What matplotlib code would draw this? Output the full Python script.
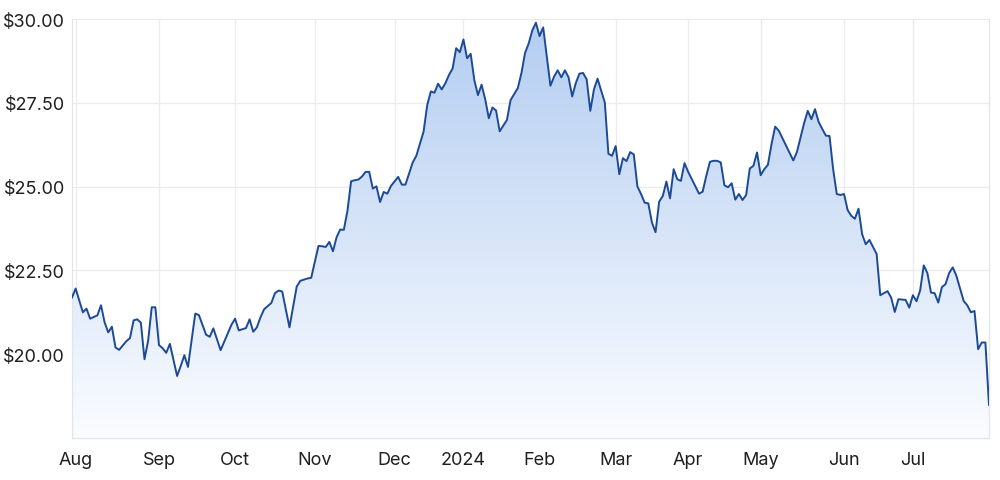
"""
Preço da ação em 12 meses (pregões da ASX), com preenchimento em degradê.
"""

import matplotlib.pyplot as plt
import numpy as np
import pandas as pd
from matplotlib.colors import LinearSegmentedColormap

# calendário de pregões (feriados da ASX no período)
feriados = [
    "2023-12-25", "2023-12-26", "2024-01-01", "2024-01-26",
    "2024-03-29", "2024-04-01", "2024-04-25", "2024-06-10",
]

datas = [
    "2023-07-31", "2023-08-01", "2023-08-03", "2023-08-04", "2023-08-07", "2023-08-09",
    "2023-08-10", "2023-08-11", "2023-08-14", "2023-08-15", "2023-08-16", "2023-08-17",
    "2023-08-21", "2023-08-22", "2023-08-23", "2023-08-24", "2023-08-25", "2023-08-28",
    "2023-08-29", "2023-08-30", "2023-08-31", "2023-09-01", "2023-09-04", "2023-09-05",
    "2023-09-06", "2023-09-08", "2023-09-11", "2023-09-12", "2023-09-13", "2023-09-15",
    "2023-09-18", "2023-09-20", "2023-09-21", "2023-09-22", "2023-09-26", "2023-09-29",
    "2023-10-02", "2023-10-03", "2023-10-05", "2023-10-06", "2023-10-09", "2023-10-10",
    "2023-10-11", "2023-10-12", "2023-10-16", "2023-10-17", "2023-10-18", "2023-10-19",
    "2023-10-23", "2023-10-25", "2023-10-26", "2023-10-30", "2023-10-31", "2023-11-01",
    "2023-11-02", "2023-11-03", "2023-11-06", "2023-11-07", "2023-11-08", "2023-11-09",
    "2023-11-10", "2023-11-13", "2023-11-14", "2023-11-15", "2023-11-16", "2023-11-17",
    "2023-11-20", "2023-11-21", "2023-11-22", "2023-11-23", "2023-11-24", "2023-11-27",
    "2023-11-28", "2023-11-29", "2023-11-30", "2023-12-04", "2023-12-05", "2023-12-06",
    "2023-12-08", "2023-12-11", "2023-12-13", "2023-12-14", "2023-12-15", "2023-12-18",
    "2023-12-19", "2023-12-20", "2023-12-21", "2023-12-22", "2023-12-27", "2023-12-28",
    "2023-12-29", "2024-01-02", "2024-01-03", "2024-01-04", "2024-01-05", "2024-01-08",
    "2024-01-09", "2024-01-10", "2024-01-11", "2024-01-12", "2024-01-15", "2024-01-16",
    "2024-01-18", "2024-01-19", "2024-01-23", "2024-01-24", "2024-01-25", "2024-01-29",
    "2024-01-30", "2024-01-31", "2024-02-01", "2024-02-02", "2024-02-06", "2024-02-07",
    "2024-02-08", "2024-02-09", "2024-02-12", "2024-02-13", "2024-02-14", "2024-02-15",
    "2024-02-16", "2024-02-19", "2024-02-20", "2024-02-21", "2024-02-22", "2024-02-23",
    "2024-02-27", "2024-02-28", "2024-02-29", "2024-03-01", "2024-03-04", "2024-03-05",
    "2024-03-06", "2024-03-07", "2024-03-08", "2024-03-11", "2024-03-12", "2024-03-13",
    "2024-03-14", "2024-03-15", "2024-03-18", "2024-03-19", "2024-03-20", "2024-03-21",
    "2024-03-22", "2024-03-25", "2024-03-26", "2024-03-27", "2024-03-28", "2024-04-02",
    "2024-04-05", "2024-04-08", "2024-04-09", "2024-04-10", "2024-04-11", "2024-04-12",
    "2024-04-15", "2024-04-16", "2024-04-17", "2024-04-18", "2024-04-19", "2024-04-22",
    "2024-04-23", "2024-04-24", "2024-04-26", "2024-04-29", "2024-04-30", "2024-05-01",
    "2024-05-02", "2024-05-03", "2024-05-06", "2024-05-07", "2024-05-08", "2024-05-14",
    "2024-05-15", "2024-05-17", "2024-05-20", "2024-05-21", "2024-05-22", "2024-05-23",
    "2024-05-24", "2024-05-27", "2024-05-28", "2024-05-29", "2024-05-30", "2024-05-31",
    "2024-06-03", "2024-06-04", "2024-06-05", "2024-06-06", "2024-06-07", "2024-06-11",
    "2024-06-12", "2024-06-13", "2024-06-17", "2024-06-18", "2024-06-20", "2024-06-21",
    "2024-06-24", "2024-06-25", "2024-06-26", "2024-06-27", "2024-06-28", "2024-07-01",
    "2024-07-02", "2024-07-03", "2024-07-04", "2024-07-05", "2024-07-08", "2024-07-09",
    "2024-07-10", "2024-07-11", "2024-07-12", "2024-07-15", "2024-07-16", "2024-07-17",
    "2024-07-18", "2024-07-19", "2024-07-22", "2024-07-23", "2024-07-24", "2024-07-25",
    "2024-07-26", "2024-07-29", "2024-07-30",
]

precos = [
    21.69, 21.96, 21.25, 21.36, 21.06, 21.16,
    21.46, 20.95, 20.65, 20.82, 20.20, 20.13,
    20.39, 20.48, 21.01, 21.04, 20.94, 19.85,
    20.40, 21.40, 21.40, 20.27, 20.18, 20.04,
    20.31, 19.35, 19.65, 19.97, 19.62, 21.21,
    21.17, 20.58, 20.52, 20.77, 20.12, 20.88,
    21.06, 20.71, 20.78, 21.04, 20.67, 20.80,
    21.10, 21.34, 21.53, 21.82, 21.90, 21.87,
    20.80, 22.02, 22.19, 22.26, 22.28, 22.76,
    23.23, 23.22, 23.20, 23.35, 23.07, 23.49,
    23.72, 23.71, 24.28, 25.16, 25.19, 25.21,
    25.30, 25.44, 25.44, 24.94, 25.01, 24.54,
    24.84, 24.79, 25.02, 25.29, 25.06, 25.06,
    25.72, 25.92, 26.64, 27.43, 27.84, 27.80,
    28.07, 27.90, 28.08, 28.33, 28.52, 29.13,
    29.01, 29.39, 28.83, 28.96, 28.18, 27.73,
    28.04, 27.61, 27.04, 27.36, 27.27, 26.65,
    26.99, 27.58, 27.94, 28.39, 28.99, 29.27,
    29.66, 29.89, 29.49, 29.75, 28.01, 28.28,
    28.47, 28.26, 28.47, 28.26, 27.69, 28.09,
    28.37, 28.39, 28.20, 27.26, 27.90, 28.22,
    27.51, 25.98, 25.92, 26.21, 25.37, 25.85,
    25.76, 26.03, 25.96, 25.00, 24.78, 24.52,
    24.50, 23.93, 23.64, 24.55, 24.72, 25.15,
    24.65, 25.52, 25.22, 25.17, 25.70, 25.44,
    24.79, 24.85, 25.32, 25.74, 25.77, 25.77,
    25.72, 25.04, 24.98, 25.10, 24.61, 24.78,
    24.60, 24.75, 25.54, 25.62, 26.02, 25.34,
    25.52, 25.65, 26.27, 26.79, 26.67, 25.78,
    26.03, 26.90, 27.26, 27.01, 27.31, 26.93,
    26.72, 26.52, 26.51, 25.52, 24.78, 24.75,
    24.78, 24.30, 24.13, 24.04, 24.34, 23.58,
    23.28, 23.41, 22.99, 21.76, 21.88, 21.69,
    21.26, 21.64, 21.63, 21.62, 21.39, 21.76,
    21.58, 21.90, 22.65, 22.42, 21.84, 21.82,
    21.54, 22.00, 22.09, 22.42, 22.59, 22.34,
    21.96, 21.59, 21.46, 21.25, 21.29, 20.15,
    20.35, 20.35, 18.49,
]

rotulos_meses = ["Aug", "Sep", "Oct", "Nov", "Dec", "2024",
                 "Feb", "Mar", "Apr", "May", "Jun", "Jul"]
ticks_preco = [20.0, 22.5, 25.0, 27.5, 30.0]

COR_LINHA = "#1c4a97"
COR_GRADE = "#e9ebef"
COR_TEXTO = "#1f1f1f"

plt.rcParams["font.family"] = ["Inter", "DejaVu Sans"]

pregoes = pd.bdate_range(datas[0], datas[-1], freq="C", holidays=feriados)
x = pregoes.get_indexer(pd.to_datetime(datas))
y = np.array(precos)

# primeiro pregão de cada mês (a partir de agosto)
serie_pregoes = pd.Series(np.arange(len(pregoes)), index=pregoes)
primeiros = serie_pregoes.groupby(pregoes.to_period("M")).first().values[1:]

fig = plt.figure(figsize=(10, 4.81), dpi=100)
ax = fig.add_axes([0.072, 0.0873, 0.917, 0.8711])

y_min, y_max = 17.5, 30.0

# degradê azul recortado pela área sob a linha
area = ax.fill_between(x, y, y_min, facecolor="none", edgecolor="none")
cmap = LinearSegmentedColormap.from_list("azul", ["#fbfcff", "#b3cdf1"])
gradiente = np.linspace(0, 1, 256).reshape(-1, 1)
img = ax.imshow(
    gradiente,
    cmap=cmap,
    origin="lower",
    aspect="auto",
    extent=[x.min(), x.max(), y_min, y_max],
    zorder=1,
)
caminho = area.get_paths()[0]
img.set_clip_path(caminho, transform=ax.transData)

ax.plot(x, y, color=COR_LINHA, linewidth=1.4, zorder=3)

ax.set_xlim(x.min(), x.max())
ax.set_ylim(y_min, y_max)

ax.set_yticks(ticks_preco)
ax.set_yticklabels([f"${v:.2f}" for v in ticks_preco])
ax.set_xticks(primeiros)
ax.set_xticklabels(rotulos_meses)

ax.grid(True, color=COR_GRADE, linewidth=0.9, zorder=0)
ax.set_axisbelow(True)
ax.tick_params(axis="both", length=0, labelsize=13, colors=COR_TEXTO)
ax.tick_params(axis="y", pad=5)
ax.tick_params(axis="x", pad=9)

for lado in ["left", "bottom", "right"]:
    ax.spines[lado].set_color("#e2e4e8")
    ax.spines[lado].set_linewidth(0.9)
ax.spines["top"].set_visible(False)

fig.savefig("out.png", dpi=100)
